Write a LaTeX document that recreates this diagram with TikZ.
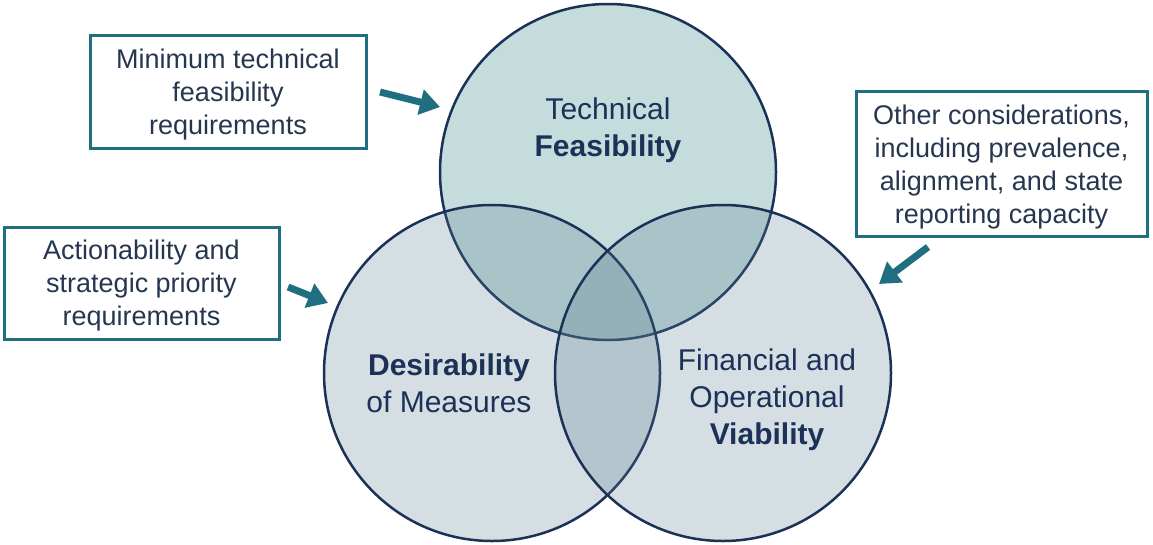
\documentclass[tikz,border=0pt]{standalone}
\usepackage{fontspec}
\setmainfont{Liberation Sans}
\usetikzlibrary{arrows.meta}
\definecolor{navy}{HTML}{1C3157}
\definecolor{tealline}{HTML}{1F6F80}
\definecolor{techfill}{HTML}{3E8C8C}
\definecolor{lowfill}{HTML}{577B8F}
\definecolor{boxtext}{HTML}{26364F}
\tikzset{
	venn/.style={circle, draw=navy, line width=2.5pt, minimum size=336pt, inner sep=0pt, fill opacity=0.3},
	notebox/.style={draw=tealline, line width=3pt, align=center, text=boxtext, font=\fontsize{27}{33}\selectfont, inner sep=0pt, text depth=-2pt},
	venntext/.style={align=center, text=navy, font=\fontsize{30}{37}\selectfont},
	push/.style={tealline, line width=7pt, -{Triangle[length=20pt,width=25pt]}}
}
\begin{document}
\begin{tikzpicture}[x=1pt, y=-1pt]
		\useasboundingbox (0, 0) rectangle (1153, 544);

		% the three circles
		\node[venn, fill=techfill] (tech) at (608, 172) {};
		\node[venn, fill=lowfill, fill opacity=0.25] (desir) at (492, 373) {};
		\node[venn, fill=lowfill, fill opacity=0.25] (viab) at (723, 373) {};

		\node[venntext] (techlabel) at (608, 130) {Technical\\\textbf{Feasibility}};
		\node[venntext] (desirlabel) at (449, 383) {\textbf{Desirability}\\of Measures};
		\node[venntext] (viablabel) at (767, 400) {Financial and\\Operational\\\textbf{Viability}};

		% boxes
		\node[notebox, minimum width=276pt, minimum height=113pt] (minreq) at (228, 91.5)
		{Minimum technical\\feasibility\\requirements};
		\node[notebox, minimum width=275pt, minimum height=112pt] (actreq) at (141.5, 283)
		{Actionability and\\strategic priority\\requirements};
		\node[notebox, minimum width=291pt, minimum height=145pt] (other) at (1001.5, 164)
		{Other considerations,\\including prevalence,\\alignment, and state\\reporting capacity};

		% arrows
		\coordinate (a1) at (380, 92);
		\coordinate (b1) at (440, 107);
		\coordinate (a2) at (288, 287);
		\coordinate (b2) at (328, 303);
		\coordinate (a3) at (928, 247);
		\coordinate (b3) at (879, 284);
		\draw[push] (a1) -- (b1);
		\draw[push] (a2) -- (b2);
		\draw[push] (a3) -- (b3);
	\end{tikzpicture}
\end{document}
